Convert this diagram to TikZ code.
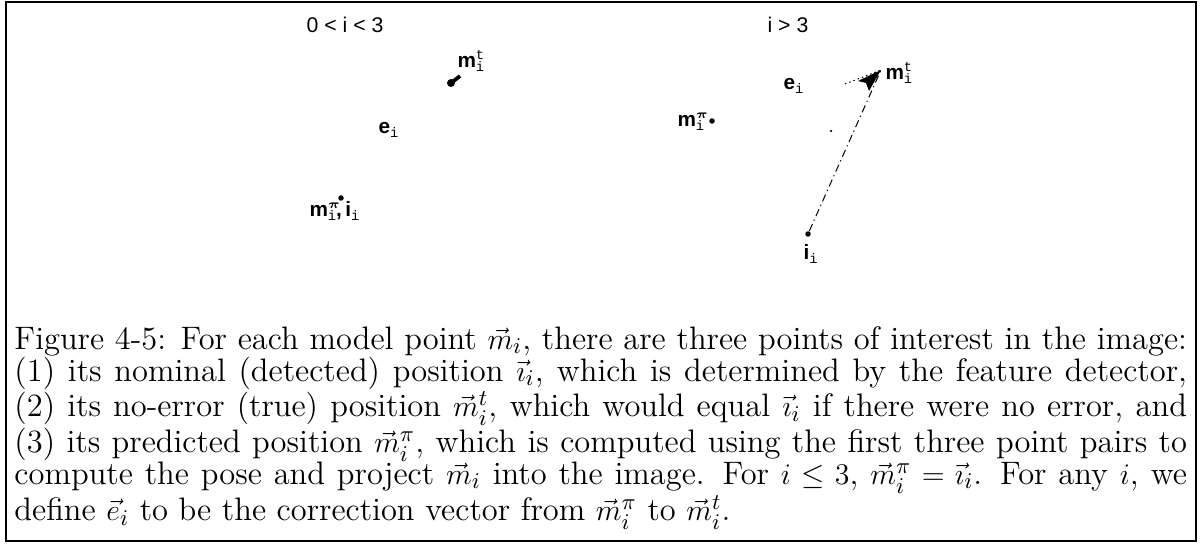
\documentclass[tikz,border=0pt]{standalone}
\usepackage{amsmath}
\usepackage{amssymb}
\usepackage{fontspec}
\usetikzlibrary{arrows.meta}
\newfontfamily\lsans{Liberation Sans}
\newfontfamily\lmono{Liberation Mono}
\newcommand{\ssup}[2]{\makebox[0pt][l]{\raisebox{3.4pt}{\fontsize{5.5}{6}\selectfont #1}}\raisebox{-1.3pt}{\fontsize{5.5}{6}\selectfont\lmono\mdseries #2}}
\newcommand{\lbm}[1]{\textbf{m}\ssup{\lmono\mdseries #1}{i}}
\newcommand{\lbmpi}{\textbf{m}\ssup{$\boldsymbol{\pi}$}{i}}
\newcommand{\lsub}{\raisebox{-1.3pt}{\fontsize{5.5}{6}\selectfont\lmono\mdseries i}}
\begin{document}
\begin{tikzpicture}[x=0.4pt,y=-0.4pt,
  lab/.style={font=\fontsize{8.3}{9}\selectfont\lsans\bfseries, inner sep=0pt, anchor=base west},
  ttl/.style={font=\fontsize{8.5}{10}\selectfont\lsans, inner sep=0pt, anchor=base},
  pt/.style={fill=black, circle, inner sep=0pt, minimum size=2.2pt},
  trail/.style={line width=0.4pt, dash pattern=on 3pt off 1.5pt on 0.5pt off 1.5pt},
  dots/.style={line width=0.4pt, dash pattern=on 0.6pt off 1.2pt}]
\useasboundingbox (0,0) rectangle (1204,544);
\draw[line width=0.8pt] (6,2) rectangle (1196,541);

% left panel
\node[ttl] (t1) at (345,33) {0 < i < 3};
\node[lab] (mt1) at (457,68) {\lbm{t}};
\node[lab] (e1) at (378,134) {\textbf{e}\lsub};
\node[lab] (mp1) at (309,217) {\lbmpi,\,\textbf{i}\lsub};
\node[pt] (d1) at (341,198) {};
\coordinate (b1) at (451,83);
\coordinate (b2) at (460,76);
\fill (b1) circle[radius=4];
\draw[line width=1.5pt] (b1) -- (b2);

% right panel
\node[ttl] (t2) at (788,33) {i > 3};
\node[lab] (e2) at (783,90) {\textbf{e}\lsub};
\node[lab] (mt2) at (885,80) {\lbm{t}};
\node[lab] (mp2) at (677,127) {\lbmpi};
\node[pt] (d2) at (712,121) {};
\node[pt] (d3) at (808,234) {};
\node[lab] (ii) at (803,260) {\textbf{i}\lsub};
\node[pt, minimum size=1pt] (sp) at (831,131) {};
\coordinate (tip) at (881,70);
\coordinate (ds) at (845,84);
\draw[trail] (d3) -- (tip);
\draw[dots] (ds) -- (tip);
\fill (tip) -- (858,81) -- (866,83) -- (869,91) -- cycle;

% caption
\node[anchor=north west, inner sep=0pt, text width=469pt, align=justify,
  font=\fontsize{13}{12.7}\selectfont] (cap) at (14,326) {%
Figure 4-5: For each model point $\vec{m}_i$, there are three points of interest in the image: \linebreak
(1) its nominal (detected) position $\vec{\imath}_i$, which is determined by the feature detector, \linebreak
(2) its no-error (true) position $\vec{m}^t_i$, which would equal $\vec{\imath}_i$ if there were no error, and \linebreak
(3) its predicted position $\vec{m}^\pi_i$, which is computed using the first three point pairs to \linebreak
compute the pose and project $\vec{m}_i$ into the image. For $i \le 3$, $\vec{m}^\pi_i = \vec{\imath}_i$. For any $i$, we \linebreak
define $\vec{e}_i$ to be the correction vector from $\vec{m}^\pi_i$ to $\vec{m}^t_i$.};
\end{tikzpicture}
\end{document}
